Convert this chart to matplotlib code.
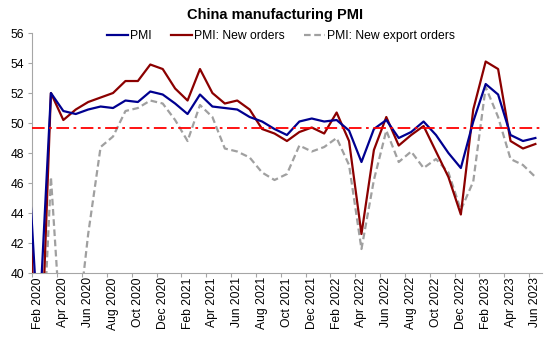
"""China manufacturing PMI: headline, new orders and new export orders, Jan 2020 - Jun 2023."""
import matplotlib
matplotlib.use("Agg")
import matplotlib.pyplot as plt
import numpy as np

plt.rcParams["font.family"] = ["Liberation Sans", "DejaVu Sans"]

# Monthly, Jan 2020 .. Jun 2023 (Jan 2020 sits just left of the visible axis)
MONTHS = [f"{m} {y}" for y in (2020, 2021, 2022, 2023)
          for m in ["Jan", "Feb", "Mar", "Apr", "May", "Jun",
                    "Jul", "Aug", "Sep", "Oct", "Nov", "Dec"]][:42]

PMI = [50.0, 35.7, 52.0, 50.8, 50.6, 50.9, 51.1, 51.0, 51.5, 51.4, 52.1, 51.9,
       51.3, 50.6, 51.9, 51.1, 51.0, 50.9, 50.4, 50.1, 49.6, 49.2, 50.1, 50.3,
       50.1, 50.2, 49.5, 47.4, 49.6, 50.2, 49.0, 49.4, 50.1, 49.2, 48.0, 47.0,
       50.1, 52.6, 51.9, 49.2, 48.8, 49.0]
NEW_ORDERS = [51.4, 29.3, 52.0, 50.2, 50.9, 51.4, 51.7, 52.0, 52.8, 52.8, 53.9, 53.6,
              52.3, 51.5, 53.6, 52.0, 51.3, 51.5, 50.9, 49.6, 49.3, 48.8, 49.4, 49.7,
              49.3, 50.7, 48.8, 42.6, 48.2, 50.4, 48.5, 49.2, 49.8, 48.1, 46.4, 43.9,
              50.9, 54.1, 53.6, 48.8, 48.3, 48.6]
EXPORT_ORDERS = [48.7, 28.7, 46.4, 33.5, 35.3, 42.6, 48.4, 49.1, 50.8, 51.0, 51.5, 51.3,
                 50.2, 48.8, 51.2, 50.4, 48.3, 48.1, 47.7, 46.7, 46.2, 46.6, 48.5, 48.1,
                 48.4, 49.0, 47.2, 41.6, 46.2, 49.5, 47.4, 48.1, 47.0, 47.6, 46.7, 44.2,
                 46.1, 52.4, 50.4, 47.6, 47.2, 46.4]
REF_LEVEL = 49.7

C_PMI = "#000090"
C_NEW = "#8B0000"
C_EXP = "#A0A0A0"
C_REF = "#FF0000"
C_AXIS = "#A6A6A6"
FS = 8.7

fig = plt.figure(figsize=(5.5, 3.38), dpi=100)
ax = fig.add_axes([0.0587, 0.1923, 0.926, 0.710])

x = np.arange(len(MONTHS))
ax.plot(x, PMI, color=C_PMI, lw=1.6, label="PMI", zorder=4)
ax.plot(x, NEW_ORDERS, color=C_NEW, lw=1.6, label="PMI: New orders", zorder=3)
ax.plot(x, EXPORT_ORDERS, color=C_EXP, lw=1.6, ls=(0, (3, 1.6)),
        label="PMI: New export orders", zorder=2)
ax.axhline(REF_LEVEL, color=C_REF, lw=1.3, ls=(0, (7, 2.5, 1.5, 2.5)), zorder=5)

ax.set_xlim(0.5, len(MONTHS) - 0.5)
ax.set_ylim(40, 56)
ax.set_yticks(np.arange(40, 57, 2))

# ticks between categories, labels on every other category (Feb, Apr, ...)
ax.set_xticks(np.arange(0.5, len(MONTHS), 2))
ax.set_xticklabels([])
ax.set_xticks(np.arange(1, len(MONTHS), 2), minor=True)
ax.set_xticklabels(MONTHS[1::2], minor=True, rotation=90, fontsize=FS)
ax.tick_params(axis="x", which="minor", length=0, pad=3)
ax.tick_params(axis="x", which="major", length=3, color=C_AXIS, width=0.8)
ax.tick_params(axis="y", labelsize=FS, length=3, color=C_AXIS, width=0.8, pad=3)

for side in ("top", "right"):
    ax.spines[side].set_visible(False)
for side in ("left", "bottom"):
    ax.spines[side].set_color(C_AXIS)
    ax.spines[side].set_linewidth(0.8)

fig.text(0.5, 0.957, "China manufacturing PMI", ha="center", va="center",
         fontsize=10.5, fontweight="bold")
fig.legend(loc="center", bbox_to_anchor=(0.511, 0.893), ncol=3, frameon=False,
           fontsize=FS, handlelength=1.75, handletextpad=0.15, columnspacing=1.6,
           borderaxespad=0, borderpad=0)

fig.savefig("out.png", dpi=100)
